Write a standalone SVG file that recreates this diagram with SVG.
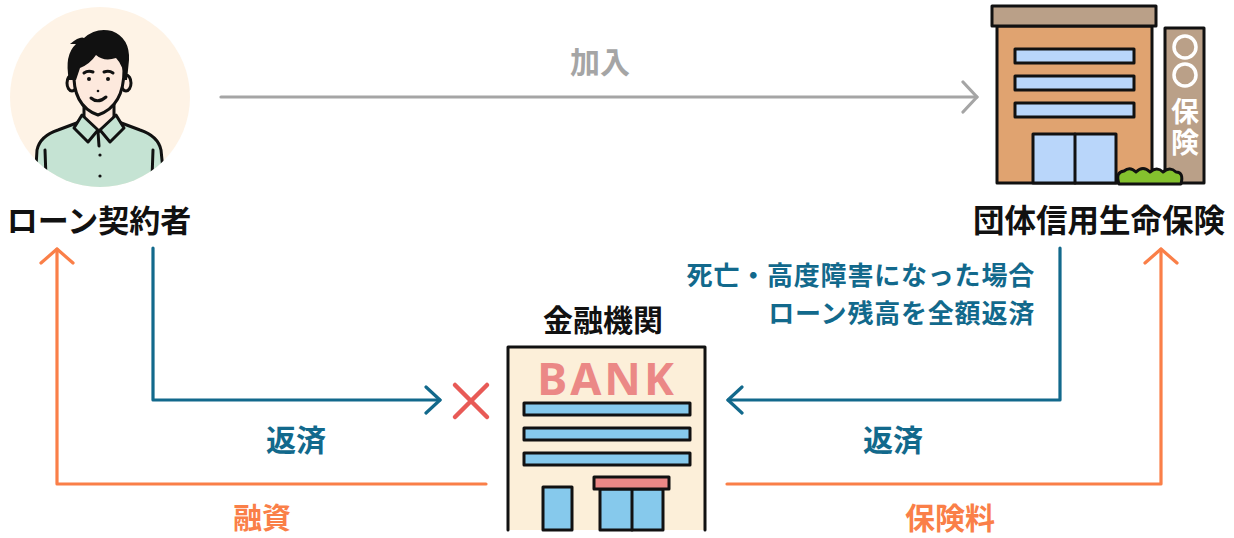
<svg xmlns="http://www.w3.org/2000/svg" width="1234" height="538" viewBox="0 0 1234 538">
  <style>
    .lbl { font-family: "Noto Sans CJK JP", "Noto Sans", sans-serif; font-weight: 700; }
    .ink { stroke: #111; stroke-width: 3; stroke-linejoin: round; stroke-linecap: round; }
    .conn { fill: none; stroke-width: 3.2; stroke-linecap: round; stroke-linejoin: round; }
    .teal { stroke: #12698C; }
    .orange { stroke: #FA7F48; }
    .gray { stroke: #A5A5A5; }
  </style>
  <defs>
    <clipPath id="avatarClip"><circle cx="100" cy="97" r="90"/></clipPath>
    <marker id="headTeal" viewBox="0 0 20 30" refX="17" refY="15" markerWidth="20" markerHeight="30" markerUnits="userSpaceOnUse" orient="auto">
      <path d="M3,2 L17,15 L3,28" fill="none" stroke="#12698C" stroke-width="3.2" stroke-linecap="round" stroke-linejoin="round"/>
    </marker>
    <marker id="headOrange" viewBox="0 0 20 36" refX="17" refY="18" markerWidth="20" markerHeight="36" markerUnits="userSpaceOnUse" orient="auto">
      <path d="M3,2 L17,18 L3,34" fill="none" stroke="#FA7F48" stroke-width="3.2" stroke-linecap="round" stroke-linejoin="round"/>
    </marker>
    <marker id="headGray" viewBox="0 0 20 34" refX="17" refY="17" markerWidth="20" markerHeight="34" markerUnits="userSpaceOnUse" orient="auto">
      <path d="M3,2 L17,17 L3,32" fill="none" stroke="#A5A5A5" stroke-width="3.2" stroke-linecap="round" stroke-linejoin="round"/>
    </marker>
  </defs>

  <rect width="1234" height="538" fill="#fff"/>

  <!-- borrower -->
  <g id="borrower">
    <circle cx="100" cy="97" r="90" fill="#FEF3E6"/>
    <g clip-path="url(#avatarClip)">
      <path class="ink" d="M34,200 L37,150 Q40,136 58,130 L82,121 L98,128 L116,121 L140,130 Q158,136 161,150 L166,200 Z" fill="#C5E3D3"/>
      <path class="ink" d="M45,150 L46,178 M153,150 L152,178" fill="none"/>
    </g>
    <path class="ink" d="M84,104 L84,119 L98,132 L114,119 L114,104 Z" fill="#FDE9DD"/>
    <path class="ink" d="M82,115 L74,128 L88,142 L98,130 Z" fill="#C5E3D3"/>
    <path class="ink" d="M116,115 L124,128 L110,142 L100,130 Z" fill="#C5E3D3"/>
    <path class="ink" d="M98,132 L99,146" fill="none"/>
    <circle cx="100" cy="155" r="1.6" fill="#111"/>
    <circle cx="100" cy="176" r="1.6" fill="#111"/>
    <ellipse class="ink" cx="72" cy="83" rx="5" ry="8" fill="#FDE9DD"/>
    <ellipse class="ink" cx="126" cy="83" rx="5" ry="8" fill="#FDE9DD"/>
    <path class="ink" d="M74,70 Q72,106 98,115 Q124,106 124,70 Q124,50 99,50 Q74,50 74,70 Z" fill="#FDE9DD"/>
    <path d="M69,80 Q64,55 76,44 L70,44 Q80,36 84,38 Q96,27 112,31 Q130,38 129,60 L127,80 L124,80 Q124,66 116,58 Q104,62 96,55 Q90,64 80,68 L76,80 Z" fill="#111"/>
    <path class="ink" d="M84,73 Q88,70 93,72 M104,72 Q109,70 113,73" fill="none" stroke-width="2"/>
    <circle cx="89" cy="79" r="2" fill="#111"/>
    <circle cx="108" cy="79" r="2" fill="#111"/>
    <circle cx="98" cy="91" r="1.3" fill="#111"/>
    <path class="ink" d="M91,98 Q98,104 106,97" fill="none" stroke-width="2.2"/>
    <text class="lbl" x="99" y="232" font-size="31" text-anchor="middle" fill="#111">ローン契約者</text>
  </g>

  <!-- group life insurer -->
  <g id="insurer">
    <rect class="ink" x="997" y="26" width="155" height="157" fill="#E0A370"/>
    <rect class="ink" x="992" y="6" width="164" height="20" fill="#BAA088"/>
    <rect class="ink" x="1015" y="49" width="119" height="14" fill="#B9D6FA"/>
    <rect class="ink" x="1015" y="76" width="119" height="14" fill="#B9D6FA"/>
    <rect class="ink" x="1015" y="103" width="119" height="14" fill="#B9D6FA"/>
    <rect class="ink" x="1033" y="134" width="83" height="49" fill="#B9D6FA"/>
    <path class="ink" d="M1075,134 L1075,183" fill="none"/>
    <rect class="ink" x="1165" y="28" width="39" height="155" fill="#BAA088"/>
    <circle cx="1185" cy="47" r="11" fill="none" stroke="#fff" stroke-width="3.5"/>
    <circle cx="1185" cy="75" r="11" fill="none" stroke="#fff" stroke-width="3.5"/>
    <text class="lbl" x="1185" y="97" font-size="28" writing-mode="vertical-rl" letter-spacing="3" fill="#fff">保険</text>
    <path class="ink" d="M1119,184 Q1115,172 1124,171 Q1130,166 1136,172 Q1143,165 1150,172 Q1157,166 1163,172 Q1170,166 1176,172 Q1184,172 1181,184 Z" fill="#84C12E"/>
    <text class="lbl" x="1099" y="232" font-size="31.5" text-anchor="middle" fill="#111">団体信用生命保険</text>
  </g>

  <!-- bank -->
  <g id="bank">
    <path class="ink" d="M508,530 L508,347 L705,347 L705,530" fill="#FCEFD9"/>
    <text x="607" y="395" font-family="'Noto Sans', 'DejaVu Sans', sans-serif" font-weight="700" font-size="45" text-anchor="middle" fill="#EB8886" letter-spacing="3">BANK</text>
    <rect class="ink" x="524" y="403" width="166" height="12" fill="#86C9EC"/>
    <rect class="ink" x="524" y="428" width="166" height="12" fill="#86C9EC"/>
    <rect class="ink" x="524" y="453" width="166" height="12" fill="#86C9EC"/>
    <rect class="ink" x="543" y="487" width="29" height="43" fill="#86C9EC"/>
    <rect class="ink" x="600" y="489" width="63" height="41" fill="#86C9EC"/>
    <path class="ink" d="M632,489 L632,530" fill="none"/>
    <rect class="ink" x="594" y="477" width="75" height="12" fill="#EB8886"/>
    <text class="lbl" x="603" y="331" font-size="30" text-anchor="middle" fill="#111">金融機関</text>
  </g>

  <!-- connectors -->
  <g id="connectors">
    <path class="conn gray" d="M221,97 L977,97" marker-end="url(#headGray)"/>
    <path class="conn teal" d="M153,248 L153,400 L440,400" marker-end="url(#headTeal)"/>
    <path class="conn teal" d="M1060,248 L1060,400 L728,400" marker-end="url(#headTeal)"/>
    <path class="conn orange" d="M486,484 L57,484 L57,249" marker-end="url(#headOrange)"/>
    <path class="conn orange" d="M727,484 L1161,484 L1161,249" marker-end="url(#headOrange)"/>
    <path d="M455,385 L487,417 M487,385 L455,417" fill="none" stroke="#E85A56" stroke-width="4.5" stroke-linecap="round"/>
    <text class="lbl" x="600" y="73" font-size="30" text-anchor="middle" fill="#A5A5A5">加入</text>
    <text class="lbl" x="296" y="451" font-size="30" text-anchor="middle" fill="#12698C">返済</text>
    <text class="lbl" x="893" y="451" font-size="30" text-anchor="middle" fill="#12698C">返済</text>
    <text class="lbl" x="262" y="529" font-size="29" text-anchor="middle" fill="#FA7F48">融資</text>
    <text class="lbl" x="950" y="529" font-size="30" text-anchor="middle" fill="#FA7F48">保険料</text>
    <text class="lbl" font-size="26" letter-spacing="0.8" text-anchor="end" fill="#12698C"><tspan x="1035" y="285">死亡・高度障害になった場合</tspan><tspan x="1035" y="323">ローン残高を全額返済</tspan></text>
  </g>
</svg>
